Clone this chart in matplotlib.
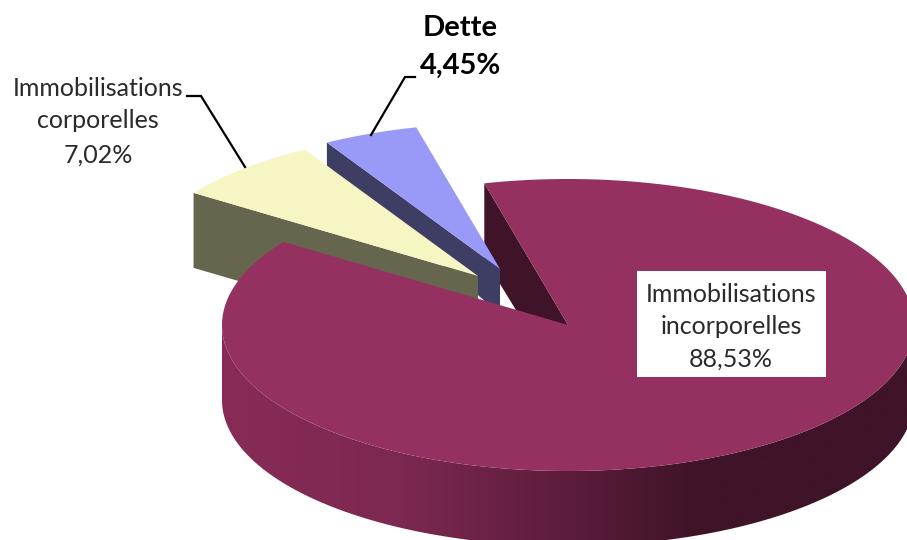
import matplotlib
matplotlib.use("Agg")
import matplotlib.pyplot as plt
import matplotlib.colors as mcolors
import numpy as np

# shares of the pie, clockwise from the start angle
names = ["Immobilisations\nincorporelles", "Immobilisations\ncorporelles", "Dette"]
shares = [88.53, 7.02, 4.45]

START_ANGLE = 104
RX, RY = 346, 146

# apex of each exploded slice, depth at rim and at apex (pixels)
apex = [(568, 325), (478, 276), (500, 269)]
depth_rim = [75, 75, 23]
depth_apex = [70, 75, 45]

top_colors = ["#953160", "#F6F6C4", "#9999F8"]
side_colors = ["#3F1328", "#66664E", "#3E3D64"]

wall_x = [222, 400, 560, 700]
wall_colors = ["#882B57", "#7C2850", "#5E1D3B", "#3F1328"]


def rim(i, t1, t2, n=200):
    t = np.radians(np.linspace(t1, t2, n))
    return apex[i][0] + RX * np.cos(t), apex[i][1] - RY * np.sin(t)


def label(x, lines, y, size, weight="normal", color="#2A2A2A"):
    for line, yy in zip(lines, y):
        ax.text(x, yy, line, ha="center", va="center", fontsize=size,
                fontweight=weight, color=color, family="Lato", zorder=12)


def pct(v):
    return f"{v:.2f}".replace(".", ",") + "%"


fig = plt.figure(figsize=(9.07, 5.4), dpi=100)
ax = fig.add_axes([0, 0, 1, 1])

# slice angles from the data
ends = START_ANGLE - np.cumsum(np.array(shares) / sum(shares) * 360)
starts = np.concatenate([[START_ANGLE], ends[:-1]])

# cut face of the big slice, behind the small ones
x0, y0 = rim(0, starts[0], starts[0], 1)
ax.fill([x0[0], apex[0][0], apex[0][0], x0[0]],
        [y0[0], apex[0][1], apex[0][1] + depth_apex[0], y0[0] + depth_rim[0]],
        color=side_colors[0], lw=0, zorder=1)

# the two small slices: cut face on the left, then the top
for i, z in ((2, 2), (1, 4)):
    xl, yl = rim(i, starts[i], starts[i], 1)
    ax.fill([xl[0], apex[i][0], apex[i][0], xl[0]],
            [yl[0], apex[i][1], apex[i][1] + depth_apex[i], yl[0] + depth_rim[i]],
            color=side_colors[i], lw=0, zorder=z)
    xs, ys = rim(i, starts[i], ends[i])
    ax.fill(np.r_[apex[i][0], xs], np.r_[apex[i][1], ys],
            color=top_colors[i], lw=0, zorder=z + 1)

# outer wall of the big slice: a horizontal gradient clipped to the wall shape
xs, ys = rim(0, 180, 360, 400)
wall = ax.fill(np.r_[xs, xs[::-1]], np.r_[ys, ys[::-1] + depth_rim[0]],
               color="none", lw=0, zorder=6)[0]
grid = np.arange(0, 908)
rgb = np.array([mcolors.to_rgb(c) for c in wall_colors])
gradient = np.stack([np.interp(grid, wall_x, rgb[:, k]) for k in range(3)], axis=-1)
im = ax.imshow(gradient[np.newaxis, :, :], extent=(0, 907, 540, 0), aspect="auto",
               interpolation="bilinear", zorder=6)
im.set_clip_path(wall)

# top of the big slice
xs, ys = rim(0, starts[0], ends[0], 600)
ax.fill(np.r_[apex[0][0], xs], np.r_[apex[0][1], ys],
        color=top_colors[0], lw=0, zorder=7)

# leader lines
ax.plot([187, 201, 245], [96, 96, 167], color="black", lw=1.6, zorder=8,
        solid_joinstyle="miter")
ax.plot([415, 405, 371], [77, 77, 135], color="black", lw=1.6, zorder=8,
        solid_joinstyle="miter")

# white box behind the big slice label
ax.fill([637, 826, 826, 637], [271, 271, 377, 377], color="white", lw=0, zorder=9)

label(731, names[0].split("\n") + [pct(shares[0])], [294, 326, 359], 18)
label(98, names[1].split("\n") + [pct(shares[1])], [89, 121, 155], 18)
label(460, [names[2], pct(shares[2])], [28, 66], 21, weight="bold", color="black")

ax.set_xlim(0, 907)
ax.set_ylim(540, 0)
ax.axis("off")

fig.savefig("out.png", dpi=100)
